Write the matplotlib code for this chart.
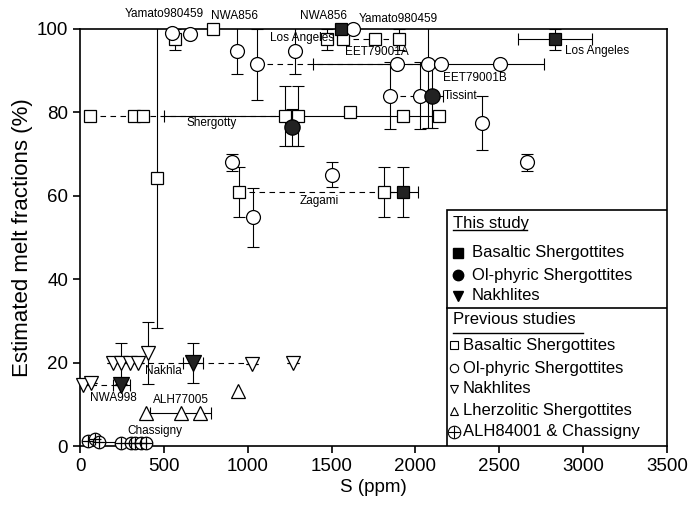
import numpy as np
import matplotlib
matplotlib.use('Agg')
import matplotlib.pyplot as plt
from matplotlib.patches import Rectangle

plt.rcParams['font.family'] = ['Liberation Sans', 'DejaVu Sans']

# ---- this study ----
ts_bas_x = [1555, 2830, 1928]
ts_bas_y = [100, 97.5, 61]
ts_bas_xerr = [0, 220, 90]
ts_bas_yerr = [0, 2.5, 6]

ts_ol_x = [1262, 2097]
ts_ol_y = [76.4, 84]
ts_ol_xerr = [0, 65]
ts_ol_yerr = [4.4, 7.8]

ts_nak_x = [246, 674]
ts_nak_y = [14.6, 19.8]
ts_nak_xerr = [50, 60]
ts_nak_yerr = [0, 4.8]

# ---- previous studies ----
pr_bas_x = [566, 795, 1470, 1570, 1759, 1904, 60, 324, 378, 1220, 1300, 1610, 1924, 2143, 457, 948, 1815]
pr_bas_y = [97.5, 100, 97.5, 97.5, 97.5, 97.5, 79.2, 79.2, 79.2, 79.2, 79.2, 80, 79.2, 79.2, 64.2, 60.8, 61]
pr_bas_xerr = [0, 0, 0, 0, 0, 0, 0, 0, 0, 0, 800, 0, 0, 0, 0, 0, 0]
pr_bas_yerr = [2.5, 0, 2.5, 0, 0, 2.5, 0, 0, 0, 7.2, 7.2, 1.2, 0, 0, 36, 6, 6]

pr_ol_x = [551, 656, 1626, 934, 1057, 1282, 1888, 2077, 2153, 2504, 1849, 2027, 904, 1034, 1501, 2399, 2666]
pr_ol_y = [99, 98.7, 100, 94.7, 91.5, 94.7, 91.6, 91.6, 91.6, 91.6, 84, 84, 68, 54.8, 65, 77.4, 68]
pr_ol_xerr = [0, 0, 0, 0, 0, 0, 0, 690, 0, 0, 0, 0, 0, 0, 0, 20, 0]
pr_ol_yerr = [0, 0, 0, 5.6, 8.5, 5.6, 0, 15.4, 0, 0, 8, 8, 2, 7, 3, 6.5, 2]

pr_nak_x = [18, 67, 197, 246, 296, 346, 405, 1028, 1272]
pr_nak_y = [14.6, 15, 19.8, 19.8, 19.8, 19.8, 22.3, 19.6, 20]
pr_nak_yerr = [0, 0, 0, 5, 0, 0, 7.4, 0, 0]

pr_lhz_x = [396, 600, 714, 944]
pr_lhz_y = [7.8, 7.8, 7.8, 13.3]
pr_lhz_xerr = [0, 183, 0, 0]

pr_chas_x = [48, 88, 111, 246, 302, 330, 362, 396]
pr_chas_y = [1.3, 1.6, 1.0, 0.8, 0.8, 0.8, 0.8, 0.8]

# tie lines between measurements of one meteorite
tie_x = [[60, 1300], [948, 1928], [1849, 2097], [1570, 1904], [1057, 2077], [346, 1028], [67, 246]]
tie_y = [79.2, 61, 84, 97.5, 91.6, 19.8, 14.6]
chas_tie_x = [111, 246]
chas_tie_y = 0.9

# sample names
names = ['Yamato980459', 'NWA856', 'NWA856', 'Yamato980459', 'Los Angeles', 'EET79001A',
         'EET79001B', 'Tissint', 'Los Angeles', 'Shergotty', 'Zagami', 'Nakhla',
         'NWA998', 'ALH77005', 'Chassigny']
name_x = [501, 924, 1449, 1896, 1324, 1771, 2355, 2272, 3083, 787, 1425, 495, 197, 602, 447]
name_y = [103.6, 103.1, 103.1, 102.4, 97.8, 94.5, 88.2, 84, 94.8, 77.5, 58.8, 18, 11.5, 11, 3.6]

fig = plt.figure(figsize=(6.94, 5.05), dpi=100)
ax = fig.add_axes([0.1153, 0.1168, 0.8458, 0.8258])

eb = dict(fmt='none', ecolor='k', elinewidth=0.8, capsize=4, capthick=0.8, zorder=2)

for xs, y in zip(tie_x, tie_y):
    ax.plot(xs, [y, y], ls=(0, (5, 4)), color='k', lw=0.8, zorder=1)
ax.plot(chas_tie_x, [chas_tie_y, chas_tie_y], color='k', lw=0.8, zorder=1)

ax.errorbar(pr_bas_x, pr_bas_y, xerr=pr_bas_xerr, yerr=pr_bas_yerr, **eb)
ax.errorbar(pr_ol_x, pr_ol_y, xerr=pr_ol_xerr, yerr=pr_ol_yerr, **eb)
ax.errorbar(pr_nak_x, pr_nak_y, yerr=pr_nak_yerr, **eb)
ax.errorbar(pr_lhz_x, pr_lhz_y, xerr=pr_lhz_xerr, **eb)
ax.errorbar(ts_bas_x, ts_bas_y, xerr=ts_bas_xerr, yerr=ts_bas_yerr, **eb)
ax.errorbar(ts_ol_x, ts_ol_y, xerr=ts_ol_xerr, yerr=ts_ol_yerr, **eb)
ax.errorbar(ts_nak_x, ts_nak_y, xerr=ts_nak_xerr, yerr=ts_nak_yerr, **eb)

mk = dict(ls='none', mec='k', mew=0.9, clip_on=False, zorder=3)
ax.plot(pr_bas_x, pr_bas_y, marker='s', ms=9, mfc='white', **mk)
ax.plot(pr_ol_x, pr_ol_y, marker='o', ms=10, mfc='white', **mk)
ax.plot(pr_nak_x, pr_nak_y, marker='v', ms=10, mfc='white', **mk)
ax.plot(pr_lhz_x, pr_lhz_y, marker='^', ms=10, mfc='white', **mk)
ax.plot(pr_chas_x, pr_chas_y, marker='o', ms=9, mfc='white', **mk)
ax.plot(pr_chas_x, pr_chas_y, marker='+', ms=9, **mk)
ax.plot(ts_bas_x, ts_bas_y, marker='s', ms=9, mfc='#222222', **mk)
ax.plot(ts_ol_x, ts_ol_y, marker='o', ms=11, mfc='#222222', **mk)
ax.plot(ts_nak_x, ts_nak_y, marker='v', ms=11, mfc='#222222', **mk)

for s, x, y in zip(names, name_x, name_y):
    ax.text(x, y, s, fontsize=8.5, ha='center', va='center', clip_on=False, zorder=4)

ax.set_xlim(0, 3500)
ax.set_ylim(0, 100)
ax.set_xticks(np.arange(0, 3501, 500))
ax.set_yticks(np.arange(0, 101, 20))
ax.tick_params(direction='out', length=5, width=1.2, labelsize=13.5, top=False, right=False)
for sp in ax.spines.values():
    sp.set_linewidth(1.2)
ax.set_xlabel('S (ppm)', fontsize=13.5, labelpad=3)
ax.set_ylabel('Estimated melt fractions (%)', fontsize=16, labelpad=3)

# legend box, drawn by hand
tr = ax.transAxes
ax.add_patch(Rectangle((0.625, 0), 0.375, 0.566, transform=tr, fc='white', ec='k', lw=1.2, zorder=5))
ax.plot([0.625, 1], [0.331, 0.331], transform=tr, color='k', lw=1.2, zorder=6)
lfs = 12
ax.text(0.635, 0.5228, 'This study', transform=tr, fontsize=lfs, va='baseline', zorder=6)
ax.plot([0.635, 0.762], [0.5168, 0.5168], transform=tr, color='k', lw=1, zorder=6)
ax.text(0.635, 0.2926, 'Previous studies', transform=tr, fontsize=lfs, va='baseline', zorder=6)
ax.plot([0.635, 0.857], [0.271, 0.271], transform=tr, color='k', lw=1, zorder=6)

leg_this = ['Basaltic Shergottites', 'Ol-phyric Shergottites', 'Nakhlites']
leg_this_mk = ['s', 'o', 'v']
leg_this_y = [0.463, 0.410, 0.360]
for s, m, y in zip(leg_this, leg_this_mk, leg_this_y):
    ax.plot([0.644], [y], marker=m, ms=7.5, mfc='k', mec='k', transform=tr, clip_on=False, zorder=6)
    ax.text(0.668, y, s, transform=tr, fontsize=lfs, va='center', zorder=6)

leg_prev = ['Basaltic Shergottites', 'Ol-phyric Shergottites', 'Nakhlites',
            'Lherzolitic Shergottites', 'ALH84001 & Chassigny']
leg_prev_mk = ['s', 'o', 'v', '^', 'o']
leg_prev_y = [0.242, 0.187, 0.137, 0.084, 0.034]
for s, m, y in zip(leg_prev, leg_prev_mk, leg_prev_y):
    ms = 9 if s.startswith('ALH') else 6
    ax.plot([0.637], [y], marker=m, ms=ms, mfc='white', mec='k', mew=0.8, transform=tr, clip_on=False, zorder=6)
    if s.startswith('ALH'):
        ax.plot([0.637], [y], marker='+', ms=9, mec='k', mew=0.8, transform=tr, clip_on=False, zorder=6)
    ax.text(0.652, y, s, transform=tr, fontsize=lfs, va='center', zorder=6)

fig.savefig('out.png', dpi=100)
